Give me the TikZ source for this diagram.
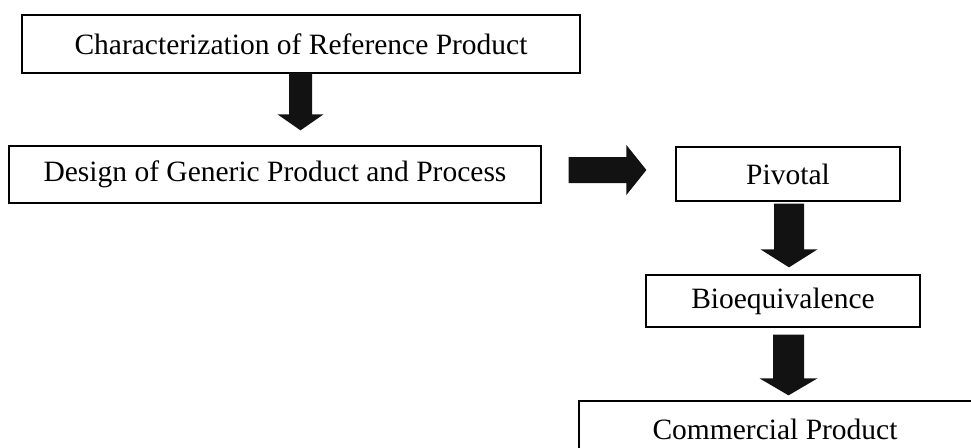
\documentclass[tikz,border=0pt]{standalone}
\usepackage{fontspec}
\setmainfont{Liberation Serif}
\usetikzlibrary{calc}
\tikzset{
  stage/.style={draw=black, line width=1.3pt, rectangle, inner sep=0pt, fill=white,
    font=\fontsize{29.5}{35}\selectfont},
  blk/.style={fill=black!93, draw=none}
}
% vertical block arrow: from node, to node, x centre, half shaft, half head, start gap, tip gap, head length
\newcommand\vblk[8]{\fill[blk] let \p1=(#1.south), \p2=(#2.north) in
  (#3pt-#4pt,\y1-#6pt) -- (#3pt+#4pt,\y1-#6pt) -- (#3pt+#4pt,\y2+#7pt+#8pt) -- (#3pt+#5pt,\y2+#7pt+#8pt)
  -- (#3pt,\y2+#7pt) -- (#3pt-#5pt,\y2+#7pt+#8pt) -- (#3pt-#4pt,\y2+#7pt+#8pt) -- cycle;}
% horizontal block arrow: from node, to node, y centre (canvas, pt), half shaft, half head, start gap, tip gap, head length
\newcommand\hblk[8]{\fill[blk] let \p1=(#1.east), \p2=(#2.west) in
  (\x1+#6pt,#3pt+#4pt) -- (\x2-#7pt-#8pt,#3pt+#4pt) -- (\x2-#7pt-#8pt,#3pt+#5pt) -- (\x2-#7pt,#3pt)
  -- (\x2-#7pt-#8pt,#3pt-#5pt) -- (\x2-#7pt-#8pt,#3pt-#4pt) -- (\x1+#6pt,#3pt-#4pt) -- cycle;}
\begin{document}
\begin{tikzpicture}[x=1pt,y=-1pt]
\useasboundingbox (0,0) rectangle (971,447);
\node[stage, minimum width=558pt, minimum height=58pt] (char) at (301,44) {Characterization of Reference Product};
\node[stage, minimum width=532pt, minimum height=57pt] (design) at (275,174.5) {Design of Generic Product and Process};
\node[stage, minimum width=224pt, minimum height=54pt] (pivotal) at (788,174) {Pivotal};
\node[stage, minimum width=274pt, minimum height=52pt] (bio) at (783,301) {Bioequivalence};
\node[stage, minimum width=410pt, minimum height=56pt] (comm) at (784,429) {Commercial Product\kern18pt};
\vblk{char}{design}{300.5}{11.5}{23}{-1}{15}{16}
\hblk{design}{pivotal}{-170}{13}{25}{27}{29}{20}
\vblk{pivotal}{bio}{789}{15}{28.5}{2}{7}{18}
\vblk{bio}{comm}{788.5}{15.5}{29}{7}{5}{17}
\end{tikzpicture}
\end{document}
